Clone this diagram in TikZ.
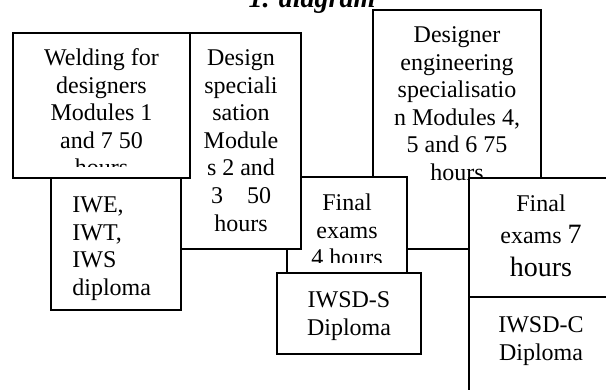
\documentclass[tikz,border=0pt]{standalone}
\usepackage{fontspec}
\setmainfont{Liberation Serif}
\usetikzlibrary{fit}
\newcommand{\tf}{\fontsize{12}{13.8}\selectfont}
\newcommand{\bigtf}{\fontsize{14}{16}\selectfont}
\begin{document}
\begin{tikzpicture}[x=0.5pt,y=-0.5pt,
  box/.style={draw, line width=0.9pt, fill=white, inner sep=0pt},
  txt/.style={font=\tf, inner sep=0pt, align=center, anchor=north},
  line/.style={font=\tf, inner sep=0pt, anchor=base}]
\useasboundingbox (0,0) rectangle (606,390);
\clip (0,0) rectangle (606,390);
% title
\node[font=\fontsize{14}{16}\selectfont\bfseries\itshape, inner sep=0pt, anchor=base] (title) at (312,8) {1. diagram};
% D
\node[box, fit={(373,10) (541,249)}] (D) {};
\node[txt] (Dt) at (457,22.7) {\strut Designer\\engineering\\specialisatio\\n Modules 4,\\5 and 6 75\\hours};
% E
\node[box, fit={(287,177) (407,273)}] (E) {};
\begin{scope}
\clip (287,177) rectangle (407,263);
\node[txt] (Et) at (347,190.7) {\strut Final\\exams\\4 hours};
\end{scope}
% G
\node[box, fit={(277,273) (421,354)}] (G) {};
\node[txt] (Gt) at (349,287.7) {\strut IWSD-S\\Diploma};
% F
\node[box, fit={(469,178) (613,297)}] (F) {};
\node[line] (F1) at (541,212) {Final};
\node[line] (F2) at (541,243) {exams {\bigtf 7}};
\node[line] (F3) at (541,277) {\bigtf hours};
% H
\node[box, fit={(469,297) (613,400)}] (H) {};
\node[txt] (Ht) at (541,312.7) {\strut IWSD-C\\Diploma};
% B
\node[box, fit={(181,33) (301,249)}] (B) {};
\node[txt] (Bt) at (241,45.7) {\strut Design\\speciali\\sation\\Module\\s 2 and\\3\ \ \ \ 50\\hours};
% C
\node[box, fit={(51,175) (181,310)}] (C) {};
\node[txt, align=left, anchor=north west] (Ct) at (72,192.7) {\strut IWE,\\IWT,\\IWS\\diploma};
% A
\node[box, fit={(13,33) (190,178)}] (A) {};
\begin{scope}
\clip (13,33) rectangle (190,167);
\node[txt] (At) at (101.5,45.7) {\strut Welding for\\designers\\Modules 1\\and 7 50\\hours};
\end{scope}
\end{tikzpicture}
\end{document}
